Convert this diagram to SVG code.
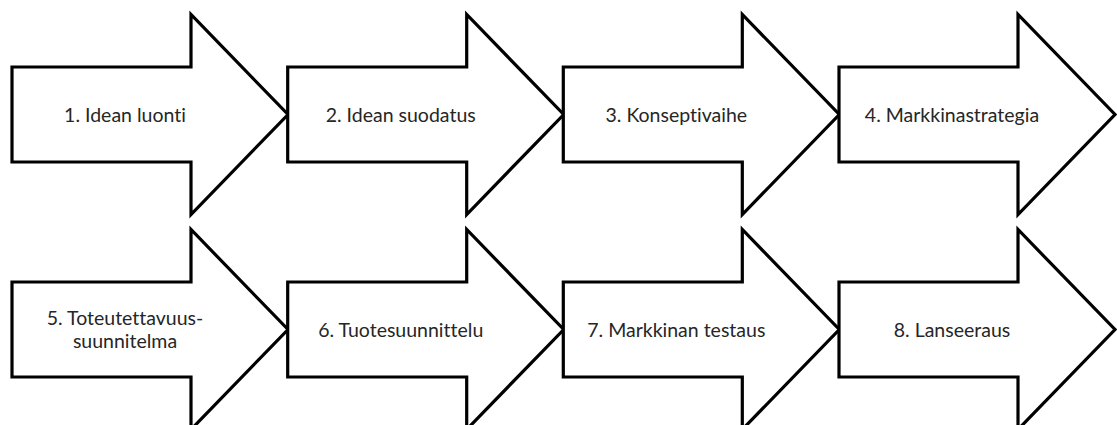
<svg xmlns="http://www.w3.org/2000/svg" xmlns:xlink="http://www.w3.org/1999/xlink" width="1117" height="425" viewBox="0 0 1117 425">
  <style>
    .arrow { fill: #ffffff; stroke: #000000; stroke-width: 3.2; stroke-linejoin: miter; stroke-miterlimit: 10; }
    .label { font-family: Lato, "Liberation Sans", sans-serif; font-size: 19.5px; fill: #262626; text-anchor: middle; font-variant-ligatures: none; }
  </style>
  <defs>
    <!-- block arrow, origin at left edge / vertical centre -->
    <polygon id="blockArrow" class="arrow" points="0,-47.5 179,-47.5 179,-100 276,0 179,100 179,47.5 0,47.5"/>
  </defs>
  <rect width="1117" height="425" fill="#ffffff"/>
  <g id="connectors"/>
  <!-- row 1 -->
  <g id="n1" transform="translate(12,114.5)">
    <use href="#blockArrow" xlink:href="#blockArrow"/>
    <text class="label" x="113" y="7.5">1. Idean luonti</text>
  </g>
  <g id="n2" transform="translate(287.7,114.5)">
    <use href="#blockArrow" xlink:href="#blockArrow"/>
    <text class="label" x="113" y="7.5">2. Idean suodatus</text>
  </g>
  <g id="n3" transform="translate(563.3,114.5)">
    <use href="#blockArrow" xlink:href="#blockArrow"/>
    <text class="label" x="113" y="7.5">3. Konseptivaihe</text>
  </g>
  <g id="n4" transform="translate(839,114.5)">
    <use href="#blockArrow" xlink:href="#blockArrow"/>
    <text class="label" x="113" y="7.5">4. Markkinastrategia</text>
  </g>
  <!-- row 2 -->
  <g id="n5" transform="translate(12,329.5)">
    <use href="#blockArrow" xlink:href="#blockArrow"/>
    <text class="label" x="113" y="-4.5">5. Toteutettavuus-</text>
    <text class="label" x="113" y="18">suunnitelma</text>
  </g>
  <g id="n6" transform="translate(287.7,329.5)">
    <use href="#blockArrow" xlink:href="#blockArrow"/>
    <text class="label" x="113" y="7.5">6. Tuotesuunnittelu</text>
  </g>
  <g id="n7" transform="translate(563.3,329.5)">
    <use href="#blockArrow" xlink:href="#blockArrow"/>
    <text class="label" x="113" y="7.5">7. Markkinan testaus</text>
  </g>
  <g id="n8" transform="translate(839,329.5)">
    <use href="#blockArrow" xlink:href="#blockArrow"/>
    <text class="label" x="113" y="7.5">8. Lanseeraus</text>
  </g>
</svg>
